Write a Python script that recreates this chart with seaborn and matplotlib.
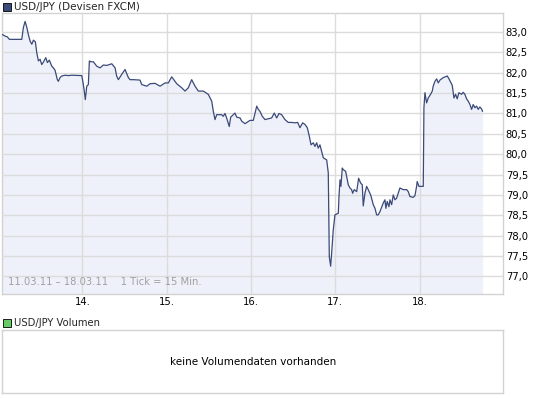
import numpy as np
import matplotlib
matplotlib.use("Agg")
import matplotlib.pyplot as plt
import seaborn as sns
from matplotlib.patches import Rectangle

# USD/JPY 15-min quotes, x in trading days (14 = Mon 14.03.11)
days = [13.050, 13.082, 13.109, 13.133, 13.280, 13.299, 13.319, 13.339, 13.358, 13.378,
        13.399, 13.418, 13.441, 13.458, 13.477, 13.497, 13.517, 13.536, 13.565, 13.584,
        13.607, 13.636, 13.655, 13.675, 13.702, 13.714, 13.734, 13.754, 13.794, 13.833,
        13.873, 13.992, 14.004, 14.019, 14.034, 14.051, 14.070, 14.082, 14.098, 14.129,
        14.170, 14.209, 14.248, 14.288, 14.348, 14.387, 14.406, 14.426, 14.466, 14.505,
        14.545, 14.565, 14.604, 14.683, 14.703, 14.763, 14.802, 14.861, 14.921, 14.980,
        15.019, 15.059, 15.119, 15.178, 15.217, 15.256, 15.296, 15.336, 15.375, 15.434,
        15.493, 15.534, 15.553, 15.573, 15.593, 15.652, 15.671, 15.691, 15.711, 15.742,
        15.759, 15.790, 15.810, 15.830, 15.870, 15.890, 15.929, 15.988, 16.027, 16.068,
        16.087, 16.107, 16.134, 16.166, 16.205, 16.245, 16.276, 16.305, 16.332, 16.364,
        16.403, 16.442, 16.483, 16.522, 16.554, 16.581, 16.613, 16.641, 16.668, 16.692,
        16.712, 16.739, 16.759, 16.779, 16.798, 16.818, 16.838, 16.858, 16.898, 16.917,
        16.929, 16.945, 16.957, 16.976, 16.996, 17.036, 17.044, 17.056, 17.067, 17.083,
        17.095, 17.123, 17.154, 17.174, 17.194, 17.206, 17.225, 17.254, 17.277, 17.301,
        17.320, 17.332, 17.352, 17.372, 17.391, 17.420, 17.451, 17.471, 17.491, 17.510,
        17.530, 17.550, 17.569, 17.589, 17.601, 17.616, 17.637, 17.649, 17.669, 17.688,
        17.708, 17.728, 17.747, 17.767, 17.806, 17.847, 17.866, 17.886, 17.925, 17.945,
        17.965, 17.972, 17.993, 18.044, 18.052, 18.064, 18.084, 18.103, 18.131, 18.151,
        18.162, 18.183, 18.203, 18.222, 18.242, 18.281, 18.329, 18.349, 18.369, 18.388,
        18.408, 18.428, 18.447, 18.467, 18.499, 18.518, 18.538, 18.558, 18.578, 18.598,
        18.618, 18.637, 18.657, 18.677, 18.696, 18.716, 18.736, 18.748]

rates = [82.94, 82.90, 82.88, 82.82, 82.82, 83.11, 83.26, 83.12, 82.94, 82.78,
         82.70, 82.80, 82.76, 82.49, 82.29, 82.33, 82.20, 82.26, 82.37, 82.25,
         82.31, 82.16, 82.12, 82.06, 81.83, 81.79, 81.88, 81.92, 81.94, 81.93,
         81.94, 81.93, 81.79, 81.59, 81.34, 81.67, 81.71, 82.29, 82.27, 82.27,
         82.16, 82.12, 82.19, 82.18, 82.22, 82.12, 81.92, 81.83, 81.96, 82.08,
         81.88, 81.83, 81.83, 81.82, 81.71, 81.67, 81.73, 81.74, 81.67, 81.75,
         81.75, 81.90, 81.73, 81.63, 81.55, 81.63, 81.83, 81.67, 81.55, 81.55,
         81.47, 81.30, 81.05, 80.85, 80.97, 80.97, 80.93, 81.00, 80.89, 80.68,
         80.91, 80.97, 81.01, 80.91, 80.89, 80.81, 80.75, 80.83, 80.83, 81.18,
         81.10, 81.05, 80.93, 80.85, 80.87, 80.89, 81.01, 80.89, 81.00, 80.97,
         80.85, 80.78, 80.78, 80.77, 80.78, 80.65, 80.77, 80.73, 80.65, 80.44,
         80.23, 80.28, 80.19, 80.28, 80.15, 80.23, 80.07, 79.91, 79.86, 79.54,
         77.48, 77.25, 77.57, 78.14, 78.51, 78.55, 78.96, 79.37, 79.21, 79.66,
         79.62, 79.58, 79.25, 79.17, 79.13, 79.04, 79.13, 79.08, 79.41, 79.29,
         79.25, 78.73, 79.04, 79.21, 79.13, 79.00, 78.76, 78.67, 78.51, 78.51,
         78.59, 78.70, 78.80, 78.88, 78.67, 78.84, 78.71, 78.88, 78.76, 79.00,
         78.88, 78.92, 79.04, 79.17, 79.13, 79.13, 79.08, 78.96, 78.94, 78.98,
         79.21, 79.33, 79.21, 79.21, 81.14, 81.51, 81.26, 81.38, 81.47, 81.55,
         81.67, 81.79, 81.85, 81.75, 81.82, 81.88, 81.92, 81.85, 81.77, 81.69,
         81.38, 81.47, 81.36, 81.51, 81.47, 81.52, 81.47, 81.36, 81.30, 81.22,
         81.10, 81.22, 81.14, 81.18, 81.10, 81.16, 81.11, 81.05]

day_ticks = [14, 15, 16, 17, 18]
day_labels = ["14.", "15.", "16.", "17.", "18."]
rate_ticks = [77.0, 77.5, 78.0, 78.5, 79.0, 79.5, 80.0, 80.5, 81.0, 81.5, 82.0, 82.5, 83.0]

title = "USD/JPY (Devisen FXCM)"
vol_title = "USD/JPY Volumen"
vol_note = "keine Volumendaten vorhanden"
range_note = "11.03.11 \u2013 18.03.11    1 Tick = 15 Min."

sns.set_style("white")
plt.rcParams["font.family"] = ["DejaVu Sans"]

line_col = "#3b4a78"
fill_col = "#eef1fa"
grid_col = "#dcdcdc"
frame_col = "#d2d2d2"

fig = plt.figure(figsize=(5.45, 3.98), dpi=100)

# price chart
ax = fig.add_axes([0.0044, 0.2606, 0.9185, 0.706])
ax.fill_between(days, rates, 76.0, color=fill_col, linewidth=0, zorder=0.5)
sns.lineplot(x=days, y=rates, ax=ax, color=line_col, linewidth=0.9,
             estimator=None, sort=False, zorder=3)
ax.set_xlim(13.05, 18.99)
ax.set_ylim(76.56, 83.46)
ax.set_xticks(day_ticks)
ax.set_xticklabels(day_labels)
ax.set_yticks(rate_ticks)
ax.set_yticklabels([f"{t:.1f}".replace(".", ",") for t in rate_ticks])
ax.yaxis.tick_right()
ax.tick_params(axis="both", length=0, labelsize=7.2, colors="black")
ax.tick_params(axis="y", pad=2)
ax.tick_params(axis="x", pad=2)
ax.grid(True, color=grid_col, linewidth=1)
ax.set_axisbelow(False)
for s in ax.spines.values():
    s.set_color(frame_col)
    s.set_linewidth(1)
ax.set_xlabel("")
ax.set_ylabel("")
ax.text(0.012, 0.025, range_note, transform=ax.transAxes, fontsize=7.2,
        color="#a0a0a0", ha="left", va="bottom")

# volume panel
ax2 = fig.add_axes([0.0044, 0.0126, 0.9185, 0.157])
ax2.set_xticks([])
ax2.set_yticks([])
for s in ax2.spines.values():
    s.set_color(frame_col)
    s.set_linewidth(1)
ax2.text(0.5, 0.5, vol_note, transform=ax2.transAxes, fontsize=7.5,
         ha="center", va="center", color="black")

# header labels with coloured squares
fig.patches.append(Rectangle((3 / 545, 1 - 11 / 398), 8 / 545, 8 / 398,
                             transform=fig.transFigure, facecolor="#3b4a78",
                             edgecolor="black", linewidth=0.6))
fig.text(14 / 545, 1 - 7 / 398, title, fontsize=7.5, va="center", ha="left")
fig.patches.append(Rectangle((3 / 545, 1 - 327 / 398), 8 / 545, 8 / 398,
                             transform=fig.transFigure, facecolor="#66cc66",
                             edgecolor="black", linewidth=0.6))
fig.text(14 / 545, 1 - 323 / 398, vol_title, fontsize=7.2, va="center", ha="left")

fig.savefig("out.png", dpi=100)
